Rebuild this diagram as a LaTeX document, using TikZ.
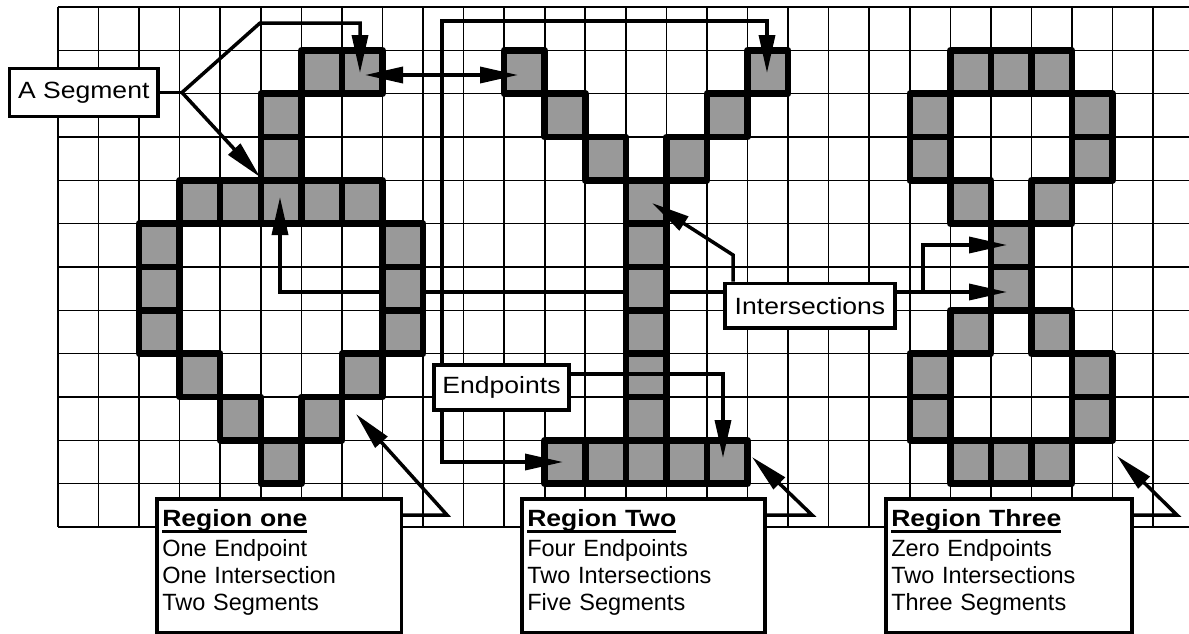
\documentclass[tikz,border=0pt]{standalone}
\usepackage{fontspec}
\setmainfont{Liberation Sans}
\newfontfamily\widefont[FakeStretch=1.13]{Liberation Sans}
\usetikzlibrary{arrows.meta}
\definecolor{cellgray}{RGB}{153,153,153}
\newcommand\ulhead[1]{\setbox0\hbox{#1}\rlap{\raisebox{-7pt}{\rule{\wd0}{3.2pt}}}\box0}
\pgfdeclarelayer{gridlayer}
\pgfdeclarelayer{underlayer}
\pgfdeclarelayer{celllayer}
\pgfdeclarelayer{toplayer}
\pgfsetlayers{gridlayer,underlayer,celllayer,main,toplayer}
\begin{document}
\begin{tikzpicture}[x=1pt,y=-1pt,
  >={Triangle[length=38pt,width=16pt]},
  gridline/.style={line width=1.6pt},
  cellfill/.style={fill=cellgray},
  cellline/.style={draw=black,line width=6.5pt,line join=round},
  conn/.style={line width=3.5pt},
  lbl/.style={draw,fill=white,line width=3.5pt,inner sep=0pt,font=\widefont\fontsize{23.5}{28}\selectfont},
  regbox/.style={draw,fill=white,line width=3.5pt,anchor=north west,align=left,inner xsep=5.5pt,inner ysep=0pt,font=\fontsize{23.5}{27}\selectfont}]
\useasboundingbox (0,0) rectangle (1189,633);
% grid
\begin{pgfonlayer}{gridlayer}
\fill[white] (0,0) rectangle (1189,633);
\foreach \i in {0,...,27} \draw[gridline] ({58+40.56*\i},7) -- ({58+40.56*\i},527);
\foreach \j in {0,...,12} \draw[gridline] (58,{7+43.333*\j}) -- (1189,{7+43.333*\j});
\end{pgfonlayer}
% cells
\begin{pgfonlayer}{celllayer}
\def\celllist{6/1,7/1,5/2,5/3,3/4,4/4,5/4,6/4,7/4,2/5,2/6,2/7,8/5,8/6,8/7,3/8,7/8,4/9,6/9,5/10,
11/1,17/1,12/2,16/2,13/3,15/3,14/4,14/5,14/6,14/7,14/8,14/9,12/10,13/10,14/10,15/10,16/10,
22/1,23/1,24/1,21/2,21/3,25/2,25/3,22/4,24/4,23/5,23/6,22/7,24/7,21/8,21/9,25/8,25/9,22/10,23/10,24/10}
\foreach \c/\r in \celllist \fill[cellfill] ({58+40.56*\c},{7+43.333*\r}) rectangle ++(40.56,43.333);
\foreach \c/\r in \celllist \draw[cellline] ({58+40.56*\c},{7+43.333*\r}) rectangle ++(40.56,43.333);
\end{pgfonlayer}
% boxes
\begin{pgfonlayer}{toplayer}
\node[lbl,minimum width=148.5pt,minimum height=47.6pt] (seg) at (83.75,92.5) {A Segment};
\node[lbl,minimum width=135pt,minimum height=45pt] (endp) at (501.5,387.5) {Endpoints};
\node[lbl,minimum width=170pt,minimum height=44.5pt] (inter) at (810,305.7) {Intersections};
\node[regbox,minimum height=134pt,text width=233.5pt] (r1) at (155,497)
  {{\widefont\bfseries\ulhead{Region one}}\\[3pt]One Endpoint\\One Intersection\\Two Segments\rule[-12pt]{0pt}{1pt}};
\node[regbox,minimum height=134pt,text width=232pt] (r2) at (520,497)
  {{\widefont\bfseries\ulhead{Region Two}}\\[3pt]Four Endpoints\\Two Intersections\\Five Segments\rule[-12pt]{0pt}{1pt}};
\node[regbox,minimum height=134pt,text width=235pt] (r3) at (884,497)
  {{\widefont\bfseries\ulhead{Region Three}}\\[3pt]Zero Endpoints\\Two Intersections\\Three Segments\rule[-12pt]{0pt}{1pt}};
\end{pgfonlayer}
% A Segment connectors
\coordinate (segbr) at (182,92.5);
\coordinate (segtop) at (260,23);
\coordinate (segr) at (360,23);
\coordinate (segtipA) at (360,73);
\coordinate (segtipB) at (260,177);
\draw[conn] (seg.east) -- (segbr);
\draw[conn,->] (segbr) -- (segtop) -- (segr) -- (segtipA);
\draw[conn,->] (segbr) -- (segtipB);
% double arrow between segment ends
\coordinate (dblL) at (365,75);
\coordinate (dblR) at (518,75);
\draw[conn,<->] (dblL) -- (dblR);
% region two long path
\coordinate (lpA) at (563,462);
\coordinate (lpB) at (442,462);
\coordinate (lpC) at (442,21);
\coordinate (lpD) at (767,21);
\coordinate (lpE) at (767,73);
\draw[conn,<->] (lpA) -- (lpB) -- (lpC) -- (lpD) -- (lpE);
% Endpoints
\coordinate (ep1) at (723,374);
\coordinate (eptip) at (723,458);
\draw[conn,->] (endp.east |- ep1) -- (ep1) -- (eptip);
% Intersections
\coordinate (i1) at (733,255);
\coordinate (i1tip) at (652,203);
\draw[conn,->] (i1 |- inter.north) -- (i1) -- (i1tip);
\coordinate (i2) at (280,292);
\coordinate (i2mid) at (280,250);
\coordinate (i2tip) at (280,197);
\begin{pgfonlayer}{underlayer}
\draw[conn] (inter.west |- i2) -- (i2) -- (i2tip);
\end{pgfonlayer}
\draw[conn,->] (i2mid) -- (i2tip);
\coordinate (i3) at (923,292);
\coordinate (i3tip) at (1007,292);
\coordinate (i4) at (923,245);
\coordinate (i4tip) at (1007,245);
\draw[conn,->] (inter.east |- i3) -- (i3tip);
\draw[conn,->] (i3) -- (i4) -- (i4tip);
% region pointers
\coordinate (p1) at (447,515);
\coordinate (p1tip) at (356,414);
\draw[conn,->] (r1.east |- p1) -- (p1) -- (p1tip);
\coordinate (p2) at (812,515);
\coordinate (p2tip) at (752,457);
\draw[conn,->] (r2.east |- p2) -- (p2) -- (p2tip);
\coordinate (p3) at (1177,515);
\coordinate (p3tip) at (1117,456);
\draw[conn,->] (r3.east |- p3) -- (p3) -- (p3tip);
\end{tikzpicture}
\end{document}
